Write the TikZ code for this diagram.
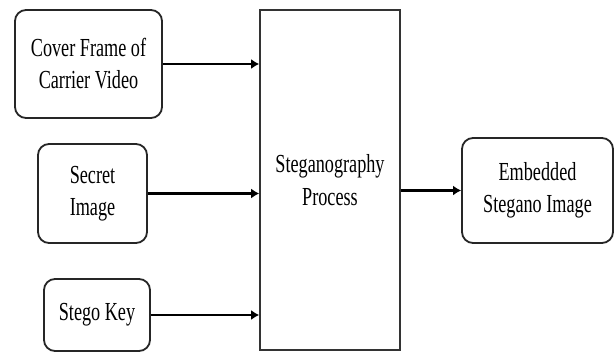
\documentclass[tikz,border=0pt]{standalone}
\usepackage{fontspec}
\setmainfont{Liberation Serif}[FakeStretch=0.70]
\usetikzlibrary{arrows.meta}
\begin{document}
\begin{tikzpicture}[x=1pt,y=-1pt,
  rbox/.style={draw=black!85,line width=1.8pt,rounded corners=11pt,align=center,inner sep=0pt,
    font=\fontsize{26}{32}\selectfont},
  pbox/.style={draw=black!80,line width=1.6pt,align=center,inner sep=0pt,
    font=\fontsize{26}{33}\selectfont},
  conn/.style={line width=2.5pt,-{Latex[length=8pt,width=10pt]}}]
\useasboundingbox (0,0) rectangle (616,353);
\node[rbox,minimum width=147pt,minimum height=108pt] (b1) at (88.5,64) {Cover Frame of\\Carrier Video};
\node[rbox,minimum width=109pt,minimum height=99pt] (b2) at (92.5,193.5) {Secret\\Image};
\node[rbox,minimum width=106pt,minimum height=72pt] (b3) at (97,315) {Stego Key};
\node[pbox,minimum width=140pt,minimum height=340pt] (main) at (330,180) {Steganography\\Process};
\node[rbox,minimum width=151pt,minimum height=105pt] (out) at (537.5,190.5) {Embedded\\Stegano Image};
\draw[conn] (b1.east) -- (b1.east -| main.west);
\draw[conn] (b2.east) -- (b2.east -| main.west);
\draw[conn] (b3.east) -- (b3.east -| main.west);
\draw[conn] (main.east |- out.west) -- (out.west);
\end{tikzpicture}
\end{document}
